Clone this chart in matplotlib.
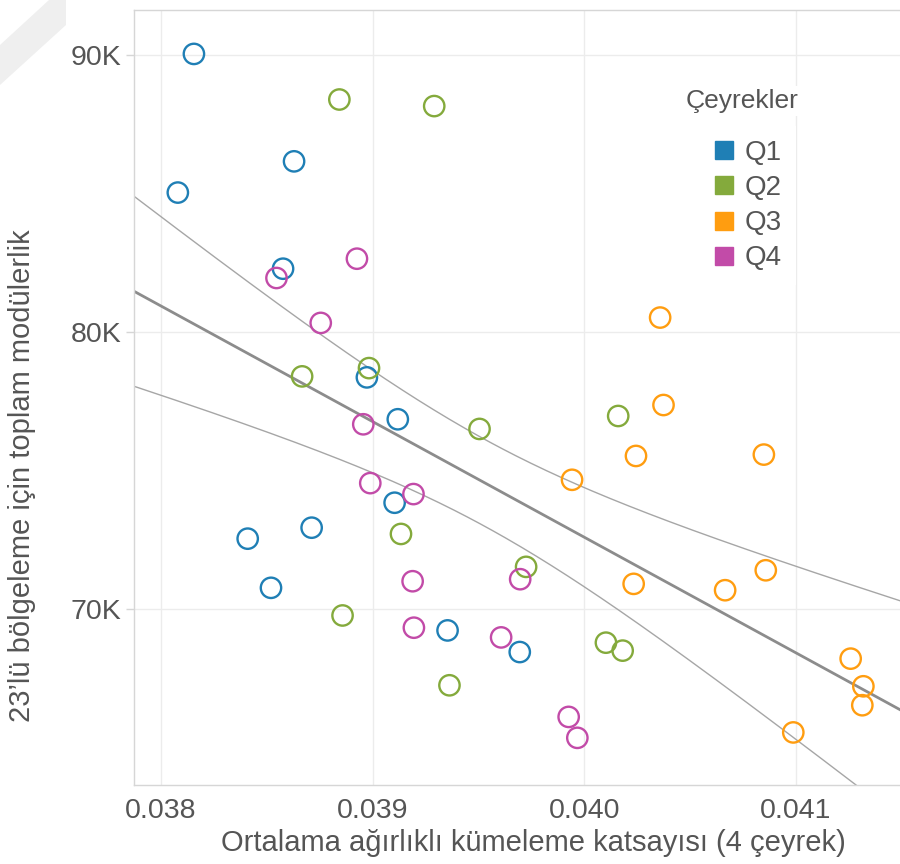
import numpy as np
import matplotlib
matplotlib.use("Agg")
import matplotlib.pyplot as plt
from matplotlib.lines import Line2D
from matplotlib.patches import Polygon

plt.rcParams['font.family'] = ['Liberation Sans', 'DejaVu Sans']

quarters = ['Q1', 'Q2', 'Q3', 'Q4']
colors = ['#1f7fb5', '#84aa3c', '#ff9d10', '#c24ba8']

q1_x = [0.038156, 0.038080, 0.038629, 0.038577, 0.038973, 0.039119,
        0.039104, 0.038712, 0.038410, 0.038520, 0.039354, 0.039695]
q1_y = [90036, 85036, 86162, 82290, 78371, 76860,
        73850, 72950, 72554, 70781, 69245, 68465]

q2_x = [0.038843, 0.039291, 0.038667, 0.038983, 0.039505, 0.040160,
        0.039134, 0.039725, 0.038858, 0.040102, 0.040181, 0.039363]
q2_y = [88392, 88155, 78407, 78705, 76511, 76978,
        72724, 71537, 69784, 68803, 68516, 67266]

q3_x = [0.040358, 0.040374, 0.039942, 0.040244, 0.040848, 0.040233,
        0.040665, 0.040857, 0.041258, 0.041318, 0.041313, 0.040987]
q3_y = [80528, 77374, 74677, 75537, 75586, 70924,
        70695, 71414, 68227, 67230, 66547, 65566]

q4_x = [0.038926, 0.038546, 0.038755, 0.038956, 0.038989, 0.039193,
        0.039189, 0.039195, 0.039697, 0.039607, 0.039926, 0.039967]
q4_y = [82651, 81955, 80335, 76679, 74557, 74162,
        71019, 69343, 71092, 68993, 66126, 65371]

xs = [q1_x, q2_x, q3_x, q4_x]
ys = [q1_y, q2_y, q3_y, q4_y]

x_ticks = [0.038, 0.039, 0.040, 0.041]
x_tick_labels = ['0.038', '0.039', '0.040', '0.041']
y_ticks = [70000, 80000, 90000]
y_tick_labels = ['70K', '80K', '90K']

W, H = 900, 864
fig = plt.figure(figsize=(W / 100, H / 100), dpi=100)

# faint watermark shape in top-left corner
wm = Polygon([(49 / W, 1), (66 / W, 1), (66 / W, 1 - 25 / H), (0, 1 - 85 / H), (0, 1 - 45 / H)],
             closed=True, transform=fig.transFigure, facecolor='#efefef', edgecolor='none', zorder=0)
fig.patches.append(wm)

ax = fig.add_axes([134 / W, 1 - 785 / H, 766 / W, 775 / H])
ax.set_xlim(0.037873, 0.041491)
ax.set_ylim(63670, 91620)

ax.grid(True, color='#ececec', linewidth=1.0, zorder=0)
ax.set_axisbelow(True)
for side in ['left', 'bottom', 'top']:
    ax.spines[side].set_color('#d6d6d6')
    ax.spines[side].set_linewidth(1.0)
ax.spines['right'].set_visible(False)

ax.set_xticks(x_ticks)
ax.set_xticklabels(x_tick_labels)
ax.set_yticks(y_ticks)
ax.set_yticklabels(y_tick_labels)
ax.tick_params(axis='x', length=0, pad=9, labelsize=20.5, labelcolor='#555555')
ax.tick_params(axis='y', length=6, width=1, color='#d6d6d6', pad=3, labelsize=20.5, labelcolor='#555555')

# regression with 95% confidence band
all_x = np.concatenate([np.array(v) for v in xs])
all_y = np.concatenate([np.array(v) for v in ys])
n = len(all_x)
b, a = np.polyfit(all_x, all_y, 1)
resid = all_y - (a + b * all_x)
s = np.sqrt(np.sum(resid ** 2) / (n - 2))
xbar = all_x.mean()
sxx = np.sum((all_x - xbar) ** 2)
t_val = 2.0129
gx = np.linspace(0.037873, 0.041491, 300)
gy = a + b * gx
hw = t_val * s * np.sqrt(1.0 / n + (gx - xbar) ** 2 / sxx)
ax.plot(gx, gy, color='#8c8c8c', linewidth=2.0, zorder=2)
ax.plot(gx, gy + hw, color='#a6a6a6', linewidth=1.0, zorder=2)
ax.plot(gx, gy - hw, color='#a6a6a6', linewidth=1.0, zorder=2)

for qx, qy, c in zip(xs, ys, colors):
    ax.scatter(qx, qy, s=215, facecolors='none', edgecolors=c, linewidths=1.7, zorder=3)

# legend
fig.text(686 / W, 1 - 108 / H, 'Çeyrekler', fontsize=19, color='#555555', ha='left', va='baseline',
         bbox=dict(facecolor='white', edgecolor='none', pad=2))
handles = [Line2D([0], [0], marker='s', linestyle='none', markersize=13.3,
                  markerfacecolor=c, markeredgecolor=c) for c in colors]
leg = ax.legend(handles, quarters, loc='upper left', bbox_to_anchor=(700 / W, 1 - 126 / H),
                bbox_transform=fig.transFigure, fontsize=20, frameon=True, fancybox=False,
                borderpad=0.5, borderaxespad=0, handlelength=0.7, handletextpad=0.42,
                labelspacing=0.33)
leg.get_frame().set_facecolor('white')
leg.get_frame().set_edgecolor('none')
leg.get_frame().set_alpha(1)
for t in leg.get_texts():
    t.set_color('#555555')

fig.text(533 / W, 1 - 843 / H, 'Ortalama ağırlıklı kümeleme katsayısı (4 çeyrek)', fontsize=21,
         color='#555555', ha='center', va='center')
fig.text(22 / W, 1 - 476 / H, '23’lü bölgeleme için toplam modülerlik', fontsize=21,
         color='#555555', ha='center', va='center', rotation=90)

fig.savefig('out.png', dpi=100)
